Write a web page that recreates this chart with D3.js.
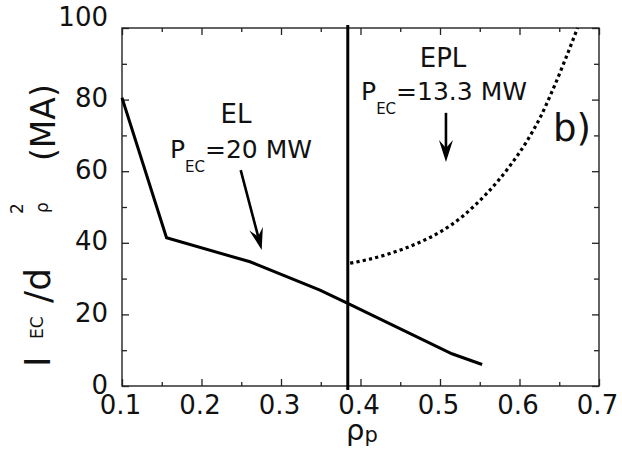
<!DOCTYPE html>
<html><head><meta charset="utf-8">
<script src="https://cdn.jsdelivr.net/npm/d3@7/dist/d3.min.js"></script>
<style>body{margin:0;background:#fff}svg{display:block}text{font-family:"DejaVu Sans",sans-serif;fill:#111}</style>
</head><body>
<svg id="c" width="622" height="452"></svg>
<script>
// ---- data ----
const elRho = [0.1, 0.156, 0.261, 0.349, 0.384, 0.515, 0.553];
const elVal = [80.5, 41.4, 34.7, 26.8, 23.1, 9.0, 6.0];
const eplRho = [0.387, 0.411, 0.437, 0.471, 0.5, 0.529, 0.544, 0.573, 0.588, 0.609, 0.626, 0.642, 0.659, 0.673];
const eplVal = [34.3, 35.4, 37.0, 39.8, 43.0, 47.5, 50.5, 57.3, 61.5, 68.3, 75.0, 82.8, 92.0, 100];
const boundaryRho = 0.384;
const xTicks = [0.1, 0.2, 0.3, 0.4, 0.5, 0.6, 0.7];
const xTickLabels = ["0.1", "0.2", "0.3", "0.4", "0.5", "0.6", "0.7"];
const yTicks = [0, 20, 40, 60, 80, 100];
const yTickLabels = ["0", "20", "40", "60", "80", "100"];
const xMinor = [0.15, 0.25, 0.35, 0.45, 0.55, 0.65];
const yMinor = [10, 30, 50, 70, 90];
// annotation arrows [rho0, val0, rho1, val1]
const arrowEL = [0.2493, 60.3, 0.2757, 38.0];
const arrowEPL = [0.5075, 76.3, 0.5075, 62.6];

const svg = d3.select("#c");
const L = 122, R = 599, T = 28, B = 386;
const x = d3.scaleLinear().domain([0.1, 0.7]).range([L, R]);
const y = d3.scaleLinear().domain([0, 100]).range([B, T]);

// frame
svg.append("rect").attr("x", L).attr("y", T).attr("width", R - L).attr("height", B - T)
  .attr("fill", "none").attr("stroke", "#222").attr("stroke-width", 1.4);

function styleAxis(g) { g.select(".domain").remove(); g.selectAll("line").attr("stroke", "#222").attr("stroke-width", 1.3); }
// major ticks inward
svg.append("g").attr("transform", `translate(0,${B})`)
  .call(d3.axisBottom(x).tickValues(xTicks).tickSize(-7).tickFormat((d, i) => xTickLabels[i]).tickPadding(14))
  .call(styleAxis)
  .call(g => g.selectAll("text").attr("font-size", 26).attr("dx", -2).attr("dy", "0.72em").attr("y", 9).style("font-family", "DejaVu Sans"));
svg.append("g").attr("transform", `translate(${L},0)`)
  .call(d3.axisLeft(y).tickValues(yTicks).tickSize(-7).tickFormat((d, i) => yTickLabels[i]).tickPadding(14))
  .call(styleAxis)
  .call(g => g.selectAll("text").attr("font-size", 26).attr("dy", (d) => d === 100 ? "-0.1em" : "0.27em").style("font-family", "DejaVu Sans"));
svg.append("g").attr("transform", `translate(0,${T})`)
  .call(d3.axisTop(x).tickValues(xTicks).tickSize(-7).tickFormat(""))
  .call(styleAxis);
svg.append("g").attr("transform", `translate(${R},0)`)
  .call(d3.axisRight(y).tickValues(yTicks).tickSize(-7).tickFormat(""))
  .call(styleAxis);
// minor
svg.append("g").attr("transform", `translate(0,${B})`).call(d3.axisBottom(x).tickValues(xMinor).tickSize(-4).tickFormat("")).call(styleAxis);
svg.append("g").attr("transform", `translate(0,${T})`).call(d3.axisTop(x).tickValues(xMinor).tickSize(-4).tickFormat("")).call(styleAxis);
svg.append("g").attr("transform", `translate(${L},0)`).call(d3.axisLeft(y).tickValues(yMinor).tickSize(-5).tickFormat("")).call(styleAxis);
svg.append("g").attr("transform", `translate(${R},0)`).call(d3.axisRight(y).tickValues(yMinor).tickSize(-5).tickFormat("")).call(styleAxis);

// vertical boundary line
svg.append("line").attr("x1", x(boundaryRho)).attr("x2", x(boundaryRho))
  .attr("y1", T - 3).attr("y2", B + 4).attr("stroke", "#000").attr("stroke-width", 3);

// EL solid line
const line = d3.line().x(d => x(d[0])).y(d => y(d[1]));
svg.append("path").datum(elRho.map((r, i) => [r, elVal[i]]))
  .attr("d", line).attr("fill", "none").attr("stroke", "#000").attr("stroke-width", 3).attr("stroke-linejoin", "miter");

// EPL dotted line
const curve = d3.line().x(d => x(d[0])).y(d => y(d[1])).curve(d3.curveMonotoneX);
svg.append("path").datum(eplRho.map((r, i) => [r, eplVal[i]]))
  .attr("d", curve).attr("fill", "none").attr("stroke", "#000").attr("stroke-width", 3.2).attr("stroke-dasharray", "3.2,3.2");

// arrows
function arrow(a) {
  const x0 = x(a[0]), y0 = y(a[1]), x1 = x(a[2]), y1 = y(a[3]);
  const dx = x1 - x0, dy = y1 - y0, len = Math.hypot(dx, dy), ux = dx / len, uy = dy / len;
  const hl = 22, hw = 7, notch = 14;
  const bx = x1 - ux * hl, by = y1 - uy * hl;
  const nx = x1 - ux * notch, ny = y1 - uy * notch;
  svg.append("line").attr("x1", x0).attr("y1", y0).attr("x2", nx).attr("y2", ny).attr("stroke", "#000").attr("stroke-width", 2.6);
  svg.append("path").attr("d", `M${x1},${y1}L${bx - uy * hw},${by + ux * hw}L${nx},${ny}L${bx + uy * hw},${by - ux * hw}Z`).attr("fill", "#000");
}
arrow(arrowEL); arrow(arrowEPL);

// annotations
function pec(cx, base, rest) {
  const t = svg.append("text").attr("x", cx).attr("y", base).attr("text-anchor", "middle").attr("font-size", 25);
  t.append("tspan").text("P");
  t.append("tspan").attr("font-size", 15).attr("dy", 14).text("EC");
  t.append("tspan").attr("dy", -14).text(rest);
}
svg.append("text").attr("x", 236).attr("y", 123).attr("text-anchor", "middle").attr("font-size", 26).text("EL");
pec(241, 158, "=20 MW");
svg.append("text").attr("x", 443).attr("y", 67).attr("text-anchor", "middle").attr("font-size", 26).text("EPL");
pec(444, 100, "=13.3 MW");
svg.append("text").attr("x", 553).attr("y", 141).attr("font-size", 37).text("b)");

// x label
const xl = svg.append("text").attr("x", 346).attr("y", 440).attr("font-size", 29);
xl.append("tspan").text("ρ");
xl.append("tspan").attr("font-size", 21).attr("dy", 2).text("p");

// y label (rotated)
const yl = svg.append("g").attr("transform", "rotate(-90)");
yl.append("text").attr("x", -367).attr("y", 50).attr("font-size", 36).text("I");
yl.append("text").attr("x", -339).attr("y", 43).attr("font-size", 17).text("EC");
yl.append("text").attr("x", -303).attr("y", 50).attr("font-size", 36).text("/d");
yl.append("text").attr("x", -214).attr("y", 23).attr("font-size", 17).text("2");
yl.append("text").attr("x", -213).attr("y", 48).attr("font-size", 17).text("ρ");
yl.append("text").attr("x", -161).attr("y", 55).attr("font-size", 33).text("(MA)");
</script>
</body></html>
